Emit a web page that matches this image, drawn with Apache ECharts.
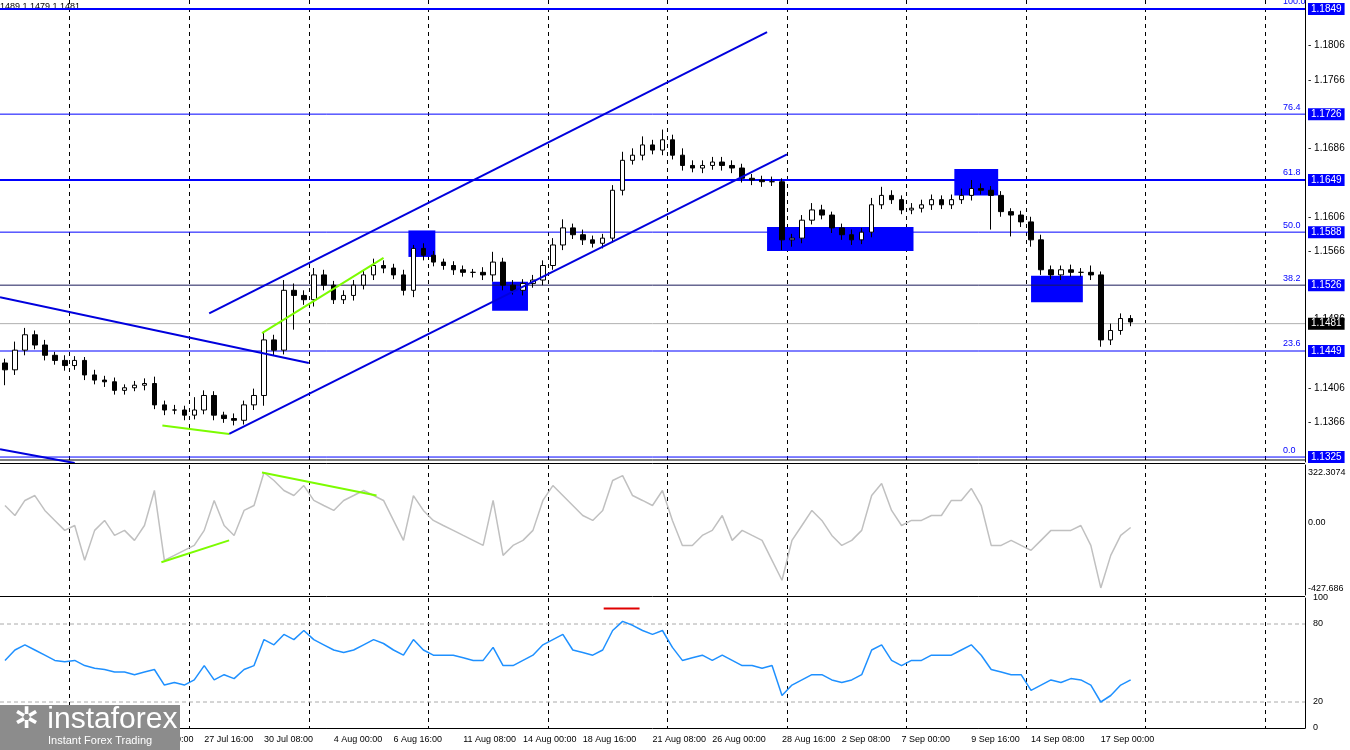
<!DOCTYPE html>
<html><head><meta charset="utf-8">
<script src="https://cdn.jsdelivr.net/npm/echarts@6/dist/echarts.min.js"></script>
<style>html,body{margin:0;padding:0;background:#fff}#c{width:1350px;height:750px}</style>
</head><body><div id="c"></div>
<script>
const closes=[1.1427,1.1450,1.1468,1.1456,1.1444,1.1438,1.1432,1.1438,1.1421,1.1415,
1.1413,1.1403,1.1406,1.1409,1.1411,1.1386,1.1380,1.1380,1.1374,1.1380,
1.1397,1.1374,1.1370,1.1368,1.1386,1.1397,1.1462,1.1450,1.1520,1.1514,
1.1509,1.1538,1.1526,1.1509,1.1514,1.1526,1.1538,1.1549,1.1546,1.1538,
1.1520,1.1569,1.1561,1.1553,1.1549,1.1544,1.1541,1.1541,1.1538,1.1553,
1.1526,1.1520,1.1528,1.1532,1.1549,1.1573,1.1593,1.1585,1.1579,1.1575,
1.1581,1.1637,1.1672,1.1678,1.1690,1.1684,1.1696,1.1678,1.1666,1.1663,
1.1666,1.1670,1.1666,1.1663,1.1651,1.1649,1.1647,1.1647,1.1579,1.1581,
1.1602,1.1614,1.1608,1.1593,1.1585,1.1579,1.1588,1.1620,1.1631,1.1626,
1.1614,1.1616,1.1620,1.1626,1.1620,1.1626,1.1631,1.1639,1.1637,1.1631,
1.1612,1.1608,1.1600,1.1579,1.1544,1.1538,1.1544,1.1541,1.1541,1.1538,
1.1462,1.1473,1.1487,1.1483];
const firstOpen=1.1435;
const wickUpPips=[5,10,8,5,6,4,6,5,4,6,5,5,4,5,6,8,5,6,5,15,6,5,4,6,5,8,10,6,12,8,6,8,6,5,6,6,5,8,6,5,6,4,6,5,4,5,5,4,6,12,5,6,5,6,6,8,10,5,6,5,5,6,10,8,10,6,12,6,8,6,6,6,6,6,5,5,5,6,4,5,6,8,6,4,5,6,5,8,10,6,5,6,6,6,5,6,8,10,6,5,5,4,5,6,6,5,5,6,5,8,4,8,6,4];
const wickDownPips=[18,6,6,5,6,5,6,5,6,5,6,5,5,4,6,5,6,5,6,5,5,6,5,6,5,6,12,6,5,40,6,8,6,5,5,6,5,6,6,5,6,8,6,5,5,6,5,6,6,8,6,5,6,5,6,5,6,5,6,5,6,5,6,5,6,5,6,5,6,5,6,5,6,6,5,6,6,5,12,8,6,5,5,6,6,6,5,6,5,5,5,5,5,6,5,5,5,6,5,40,6,25,6,8,6,5,6,5,5,6,8,6,5,5];
const cci=[110,45,143,175,78,13,-52,-20,-247,-52,13,-85,-52,-117,-20,208,-247,-215,-182,-150,-52,143,-20,-85,78,110,325,273,208,175,240,143,110,78,143,175,208,175,143,13,-117,175,78,13,-20,-52,-85,-117,-150,143,-215,-150,-117,-52,143,240,175,110,45,13,78,273,305,175,143,110,208,13,-150,-150,-85,-52,45,-117,-52,-85,-117,-247,-377,-117,-20,78,13,-85,-150,-117,-52,175,254,78,-20,13,13,45,45,143,143,221,110,-150,-150,-117,-150,-182,-117,-52,-52,-52,-20,-150,-427,-215,-85,-33];
const rsi=[52,60,64,60,56,52,51,52,48,46,45,43,43,41,43,45,33,35,33,37,48,37,41,38,45,48,68,64,72,68,75,68,64,60,58,60,64,68,65,60,56,68,60,56,56,56,54,52,52,62,48,48,52,56,64,68,72,60,58,56,60,75,82,79,75,72,75,62,52,54,56,52,56,52,48,48,46,48,25,33,37,41,41,37,35,37,41,60,64,52,48,52,52,56,56,56,60,64,56,45,43,41,41,29,33,37,35,38,37,33,20,25,33,37];
const fibLevels=[1.1849,1.1726,1.1649,1.1588,1.1526,1.1449,1.1325];
const fibNames=['100.0','76.4','61.8','50.0','38.2','23.6','0.0'];
const priceTicks=[1.1806,1.1766,1.1686,1.1606,1.1566,1.1486,1.1406,1.1366];
const lastPrice=1.1481;
const dateLabels=['16 Jul 16:00','20 Jul 08:00','23 Jul 00:00','27 Jul 16:00','30 Jul 08:00','4 Aug 00:00','6 Aug 16:00','11 Aug 08:00','14 Aug 00:00','18 Aug 16:00','21 Aug 08:00','26 Aug 00:00','28 Aug 16:00','2 Sep 08:00','7 Sep 00:00','9 Sep 16:00','14 Sep 08:00','17 Sep 00:00'];
const channelUpper=[[20.5,1.1493],[76.5,1.1822]];
const channelLower=[[22.5,1.1352],[78.5,1.1679]];
const descLine=[[-0.5,1.1512],[30.5,1.1435]];
const bottomLine=[[-0.5,1.1334],[7,1.1318]];
const greenLow=[[15.8,1.1362],[22.5,1.1352]];
const greenHigh=[[25.8,1.1470],[38,1.1558]];
const cciGreen1=[[15.7,-260],[22.5,-117]];
const cciGreen2=[[25.8,325],[37.3,175]];
const rsiRed=[[60.1,92],[63.7,92]];
const blocks=[[40.5,1.1590,43.2,1.1559],[48.9,1.1530,52.5,1.1496],[76.5,1.1594,91.2,1.1566],[95.3,1.1662,99.7,1.1631],[103,1.1537,108.2,1.1506]];

const NCAT=131;
const cats=[];for(let i=0;i<NCAT;i++)cats.push(String(i));
const ohlc=closes.map((c,i)=>{const o=i===0?firstOpen:closes[i-1];
  return [o,c,Math.min(o,c)-wickDownPips[i]/10000,Math.max(o,c)+wickUpPips[i]/10000];});
const labelIdx={};dateLabels.forEach((t,k)=>{labelIdx[Math.round((13+64*k)/10-0.5)]=t;});
const font='Liberation Sans';
const grids=[{left:0,right:45,top:0,height:462},{left:0,right:45,top:465,height:130},{left:0,right:45,top:598,height:130}];
const xAxes=[];
for(let g=0;g<3;g++){
  xAxes.push({type:'category',gridIndex:g,data:cats,boundaryGap:true,
    axisLine:{show:g===2,onZero:false,lineStyle:{color:'#000'}},axisTick:{show:false},
    axisLabel:{show:g===2,interval:(i)=>labelIdx[i]!==undefined,formatter:(v,i)=>labelIdx[i]||'',align:'left',margin:7,fontSize:9,color:'#000',fontFamily:font},
    splitLine:{show:true,interval:(i)=>i%12===7,lineStyle:{color:'#000',type:[4,4],width:1}}});
}
for(let g=0;g<3;g++){xAxes.push({type:'value',gridIndex:g,min:-0.5,max:NCAT-0.5,show:false,axisLine:{show:false,onZero:false},splitLine:{show:false}});}
const ticksAll=priceTicks.concat(fibLevels,[lastPrice]);
const yAxes=[
 {type:'value',gridIndex:0,position:'right',min:1.13192,max:1.18595,
  axisLine:{show:true,onZero:false,lineStyle:{color:'#000'}},splitLine:{show:false},
  axisTick:{show:false},
  axisLabel:{customValues:ticksAll,hideOverlap:false,margin:3,fontSize:10,fontFamily:font,color:'#000',
   formatter:(v)=>{const s=v.toFixed(4);if(fibLevels.some(f=>Math.abs(f-v)<1e-6))return '{b|'+s+'}';if(Math.abs(v-lastPrice)<1e-6)return '{k|'+s+'}';return '- '+s;},
   rich:{b:{backgroundColor:'#0000ff',color:'#fff',padding:[1,3],fontSize:10,fontFamily:font},k:{backgroundColor:'#000',color:'#fff',padding:[1,3],fontSize:10,fontFamily:font}}}},
 {type:'value',gridIndex:1,position:'right',min:-473,max:374,
  axisLine:{show:true,onZero:false,lineStyle:{color:'#000'}},splitLine:{show:false},axisTick:{show:false},
  axisLabel:{customValues:[322.3074,0,-427.686],formatter:(v)=>v===0?'0.00':String(v),fontSize:9,fontFamily:font,color:'#000',margin:3}},
 {type:'value',gridIndex:2,position:'right',min:0,max:100,
  axisLine:{show:true,onZero:false,lineStyle:{color:'#000'}},splitLine:{show:false},axisTick:{show:false},
  axisLabel:{customValues:[100,80,20,0],fontSize:9,fontFamily:font,color:'#000',margin:8}}
];
function seg(d,xi,yi,color,w,z){return {type:'line',xAxisIndex:xi,yAxisIndex:yi,data:d,symbol:'none',silent:true,lineStyle:{color:color,width:w},z:z||5};}
const fibSeries=fibLevels.map((f,i)=>({type:'line',xAxisIndex:3,yAxisIndex:0,data:[[-0.5,f],[NCAT-0.5,f]],symbol:'none',silent:true,z:2,
  lineStyle:{color:i===4?'#1a1a5a':'#0000ff',width:(i===0||i===2)?2:1},
  endLabel:{show:true,formatter:fibNames[i],color:'#0000ff',fontSize:9,fontFamily:font,offset:[-30,-7]}}));
const series=fibSeries.concat([
 seg([[-0.5,lastPrice],[NCAT-0.5,lastPrice]],3,0,'#b0b0b0',1,1),
 {type:'candlestick',xAxisIndex:0,yAxisIndex:0,data:ohlc,barWidth:5,z:3,
  itemStyle:{color:'#fff',color0:'#000',borderColor:'#000',borderColor0:'#000',borderWidth:1}},
 seg(channelUpper,3,0,'#0000dd',2),seg(channelLower,3,0,'#0000dd',2),seg(descLine,3,0,'#0000dd',2),seg(bottomLine,3,0,'#0000dd',2),
 seg(greenLow,3,0,'#7cfc00',2),seg(greenHigh,3,0,'#7cfc00',2),
 {type:'line',xAxisIndex:3,yAxisIndex:0,data:[[-5,1.15]],symbol:'none',z:6,
  markArea:{silent:true,itemStyle:{color:'#0000ff',opacity:1},data:blocks.map(b=>[{coord:[b[0],b[1]]},{coord:[b[2],b[3]]}])}},
 {type:'line',xAxisIndex:1,yAxisIndex:1,data:cci,symbol:'none',lineStyle:{color:'#c0c0c0',width:1.5}},
 seg(cciGreen1,4,1,'#7cfc00',2),seg(cciGreen2,4,1,'#7cfc00',2),
 {type:'line',xAxisIndex:2,yAxisIndex:2,data:rsi,symbol:'none',lineStyle:{color:'#1e90ff',width:1.5}},
 seg([[-0.5,80],[NCAT-0.5,80]],5,2,'#aaa',1,1),seg([[-0.5,20],[NCAT-0.5,20]],5,2,'#aaa',1,1),
 seg(rsiRed,5,2,'#e00000',2)
]);
series.forEach(s=>{if(s.lineStyle&&s.lineStyle.color==='#aaa')s.lineStyle.type=[4,3];});
const chart=echarts.init(document.getElementById('c'));
chart.setOption({animation:false,backgroundColor:'#fff',grid:grids,xAxis:xAxes,yAxis:yAxes,series:series,
 graphic:[
  {type:'text',left:0,top:2,style:{text:'1489 1.1479 1.1481',fontSize:9,fontFamily:font,fill:'#000'}},
  {type:'line',shape:{x1:0,y1:460,x2:1305,y2:460},style:{stroke:'#000',lineWidth:1}},
  {type:'line',shape:{x1:0,y1:463.5,x2:1305,y2:463.5},style:{stroke:'#000',lineWidth:1}},
  {type:'line',shape:{x1:0,y1:596.5,x2:1305,y2:596.5},style:{stroke:'#000',lineWidth:1}},
  {type:'rect',shape:{x:0,y:705,width:180,height:45},style:{fill:'#8c8c8c'},z:50},
  {type:'text',left:14,top:705,z:51,style:{text:'✲ instaforex',fontSize:30,fontFamily:font,fill:'#fff'}},
  {type:'text',left:48,top:735,z:51,style:{text:'Instant Forex Trading',fontSize:11,fontFamily:font,fill:'#fff'}}
 ]});
</script></body></html>
